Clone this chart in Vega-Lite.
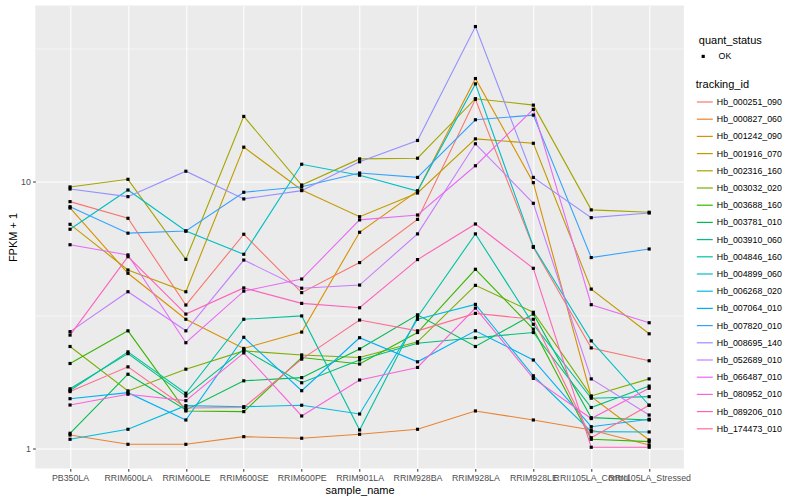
{
"$schema": "https://vega.github.io/schema/vega-lite/v6.json",
"width": 648.6,
"height": 463,
"autosize": {"type": "none"},
"padding": {"left": 35.3, "top": 5.5, "right": 116.1, "bottom": 31.5},
"background": "white",
"config": {
  "view": {"fill": "#EBEBEB", "stroke": null},
  "font": "Liberation Sans",
  "axis": {"domain": false, "labelFont": "Liberation Sans", "labelFontSize": 8.8, "labelColor": "#4D4D4D", "tickColor": "#333333", "tickSize": 2.75, "tickWidth": 1, "labelPadding": 2.2, "titleFont": "Liberation Sans", "titleFontSize": 11, "titleColor": "black", "titleFontWeight": "normal", "gridColor": "white", "gridWidth": 1.07},
  "legend": {"labelFont": "Liberation Sans", "titleFont": "Liberation Sans", "labelFontSize": 8.8, "titleFontSize": 11, "labelColor": "black", "titleColor": "black", "titleFontWeight": "normal"}
},
"data": {"values": [
{"sample_name":"PB350LA","tracking_id":"Hb_000251_090","fpkm":8.44,"quant_status":"OK"},
{"sample_name":"RRIM600LA","tracking_id":"Hb_000251_090","fpkm":7.31,"quant_status":"OK"},
{"sample_name":"RRIM600LE","tracking_id":"Hb_000251_090","fpkm":3.46,"quant_status":"OK"},
{"sample_name":"RRIM600SE","tracking_id":"Hb_000251_090","fpkm":6.37,"quant_status":"OK"},
{"sample_name":"RRIM600PE","tracking_id":"Hb_000251_090","fpkm":3.85,"quant_status":"OK"},
{"sample_name":"RRIM901LA","tracking_id":"Hb_000251_090","fpkm":4.99,"quant_status":"OK"},
{"sample_name":"RRIM928BA","tracking_id":"Hb_000251_090","fpkm":7.24,"quant_status":"OK"},
{"sample_name":"RRIM928LA","tracking_id":"Hb_000251_090","fpkm":20.4,"quant_status":"OK"},
{"sample_name":"RRIM928LE","tracking_id":"Hb_000251_090","fpkm":5.69,"quant_status":"OK"},
{"sample_name":"RRII105LA_Control","tracking_id":"Hb_000251_090","fpkm":2.39,"quant_status":"OK"},
{"sample_name":"RRII105LA_Stressed","tracking_id":"Hb_000251_090","fpkm":2.14,"quant_status":"OK"},
{"sample_name":"PB350LA","tracking_id":"Hb_000827_060","fpkm":1.128,"quant_status":"OK"},
{"sample_name":"RRIM600LA","tracking_id":"Hb_000827_060","fpkm":1.041,"quant_status":"OK"},
{"sample_name":"RRIM600LE","tracking_id":"Hb_000827_060","fpkm":1.041,"quant_status":"OK"},
{"sample_name":"RRIM600SE","tracking_id":"Hb_000827_060","fpkm":1.112,"quant_status":"OK"},
{"sample_name":"RRIM600PE","tracking_id":"Hb_000827_060","fpkm":1.097,"quant_status":"OK"},
{"sample_name":"RRIM901LA","tracking_id":"Hb_000827_060","fpkm":1.135,"quant_status":"OK"},
{"sample_name":"RRIM928BA","tracking_id":"Hb_000827_060","fpkm":1.185,"quant_status":"OK"},
{"sample_name":"RRIM928LA","tracking_id":"Hb_000827_060","fpkm":1.388,"quant_status":"OK"},
{"sample_name":"RRIM928LE","tracking_id":"Hb_000827_060","fpkm":1.284,"quant_status":"OK"},
{"sample_name":"RRII105LA_Control","tracking_id":"Hb_000827_060","fpkm":1.178,"quant_status":"OK"},
{"sample_name":"RRII105LA_Stressed","tracking_id":"Hb_000827_060","fpkm":1.035,"quant_status":"OK"},
{"sample_name":"PB350LA","tracking_id":"Hb_001242_090","fpkm":7.99,"quant_status":"OK"},
{"sample_name":"RRIM600LA","tracking_id":"Hb_001242_090","fpkm":4.55,"quant_status":"OK"},
{"sample_name":"RRIM600LE","tracking_id":"Hb_001242_090","fpkm":3.06,"quant_status":"OK"},
{"sample_name":"RRIM600SE","tracking_id":"Hb_001242_090","fpkm":2.38,"quant_status":"OK"},
{"sample_name":"RRIM600PE","tracking_id":"Hb_001242_090","fpkm":2.74,"quant_status":"OK"},
{"sample_name":"RRIM901LA","tracking_id":"Hb_001242_090","fpkm":6.48,"quant_status":"OK"},
{"sample_name":"RRIM928BA","tracking_id":"Hb_001242_090","fpkm":9.25,"quant_status":"OK"},
{"sample_name":"RRIM928LA","tracking_id":"Hb_001242_090","fpkm":24.4,"quant_status":"OK"},
{"sample_name":"RRIM928LE","tracking_id":"Hb_001242_090","fpkm":9.94,"quant_status":"OK"},
{"sample_name":"RRII105LA_Control","tracking_id":"Hb_001242_090","fpkm":1.57,"quant_status":"OK"},
{"sample_name":"RRII105LA_Stressed","tracking_id":"Hb_001242_090","fpkm":1.081,"quant_status":"OK"},
{"sample_name":"PB350LA","tracking_id":"Hb_001916_070","fpkm":6.94,"quant_status":"OK"},
{"sample_name":"RRIM600LA","tracking_id":"Hb_001916_070","fpkm":4.68,"quant_status":"OK"},
{"sample_name":"RRIM600LE","tracking_id":"Hb_001916_070","fpkm":3.88,"quant_status":"OK"},
{"sample_name":"RRIM600SE","tracking_id":"Hb_001916_070","fpkm":13.5,"quant_status":"OK"},
{"sample_name":"RRIM600PE","tracking_id":"Hb_001916_070","fpkm":9.33,"quant_status":"OK"},
{"sample_name":"RRIM901LA","tracking_id":"Hb_001916_070","fpkm":7.41,"quant_status":"OK"},
{"sample_name":"RRIM928BA","tracking_id":"Hb_001916_070","fpkm":9.09,"quant_status":"OK"},
{"sample_name":"RRIM928LA","tracking_id":"Hb_001916_070","fpkm":14.5,"quant_status":"OK"},
{"sample_name":"RRIM928LE","tracking_id":"Hb_001916_070","fpkm":13.96,"quant_status":"OK"},
{"sample_name":"RRII105LA_Control","tracking_id":"Hb_001916_070","fpkm":3.97,"quant_status":"OK"},
{"sample_name":"RRII105LA_Stressed","tracking_id":"Hb_001916_070","fpkm":2.70,"quant_status":"OK"},
{"sample_name":"PB350LA","tracking_id":"Hb_002316_160","fpkm":9.58,"quant_status":"OK"},
{"sample_name":"RRIM600LA","tracking_id":"Hb_002316_160","fpkm":10.23,"quant_status":"OK"},
{"sample_name":"RRIM600LE","tracking_id":"Hb_002316_160","fpkm":5.13,"quant_status":"OK"},
{"sample_name":"RRIM600SE","tracking_id":"Hb_002316_160","fpkm":17.6,"quant_status":"OK"},
{"sample_name":"RRIM600PE","tracking_id":"Hb_002316_160","fpkm":9.74,"quant_status":"OK"},
{"sample_name":"RRIM901LA","tracking_id":"Hb_002316_160","fpkm":12.2,"quant_status":"OK"},
{"sample_name":"RRIM928BA","tracking_id":"Hb_002316_160","fpkm":12.27,"quant_status":"OK"},
{"sample_name":"RRIM928LA","tracking_id":"Hb_002316_160","fpkm":20.5,"quant_status":"OK"},
{"sample_name":"RRIM928LE","tracking_id":"Hb_002316_160","fpkm":19.4,"quant_status":"OK"},
{"sample_name":"RRII105LA_Control","tracking_id":"Hb_002316_160","fpkm":7.86,"quant_status":"OK"},
{"sample_name":"RRII105LA_Stressed","tracking_id":"Hb_002316_160","fpkm":7.70,"quant_status":"OK"},
{"sample_name":"PB350LA","tracking_id":"Hb_003032_020","fpkm":2.42,"quant_status":"OK"},
{"sample_name":"RRIM600LA","tracking_id":"Hb_003032_020","fpkm":1.65,"quant_status":"OK"},
{"sample_name":"RRIM600LE","tracking_id":"Hb_003032_020","fpkm":1.99,"quant_status":"OK"},
{"sample_name":"RRIM600SE","tracking_id":"Hb_003032_020","fpkm":2.33,"quant_status":"OK"},
{"sample_name":"RRIM600PE","tracking_id":"Hb_003032_020","fpkm":2.25,"quant_status":"OK"},
{"sample_name":"RRIM901LA","tracking_id":"Hb_003032_020","fpkm":2.20,"quant_status":"OK"},
{"sample_name":"RRIM928BA","tracking_id":"Hb_003032_020","fpkm":2.52,"quant_status":"OK"},
{"sample_name":"RRIM928LA","tracking_id":"Hb_003032_020","fpkm":4.10,"quant_status":"OK"},
{"sample_name":"RRIM928LE","tracking_id":"Hb_003032_020","fpkm":3.25,"quant_status":"OK"},
{"sample_name":"RRII105LA_Control","tracking_id":"Hb_003032_020","fpkm":1.58,"quant_status":"OK"},
{"sample_name":"RRII105LA_Stressed","tracking_id":"Hb_003032_020","fpkm":1.83,"quant_status":"OK"},
{"sample_name":"PB350LA","tracking_id":"Hb_003688_160","fpkm":2.09,"quant_status":"OK"},
{"sample_name":"RRIM600LA","tracking_id":"Hb_003688_160","fpkm":2.77,"quant_status":"OK"},
{"sample_name":"RRIM600LE","tracking_id":"Hb_003688_160","fpkm":1.388,"quant_status":"OK"},
{"sample_name":"RRIM600SE","tracking_id":"Hb_003688_160","fpkm":1.38,"quant_status":"OK"},
{"sample_name":"RRIM600PE","tracking_id":"Hb_003688_160","fpkm":2.20,"quant_status":"OK"},
{"sample_name":"RRIM901LA","tracking_id":"Hb_003688_160","fpkm":2.08,"quant_status":"OK"},
{"sample_name":"RRIM928BA","tracking_id":"Hb_003688_160","fpkm":2.73,"quant_status":"OK"},
{"sample_name":"RRIM928LA","tracking_id":"Hb_003688_160","fpkm":4.71,"quant_status":"OK"},
{"sample_name":"RRIM928LE","tracking_id":"Hb_003688_160","fpkm":2.81,"quant_status":"OK"},
{"sample_name":"RRII105LA_Control","tracking_id":"Hb_003688_160","fpkm":1.087,"quant_status":"OK"},
{"sample_name":"RRII105LA_Stressed","tracking_id":"Hb_003688_160","fpkm":1.065,"quant_status":"OK"},
{"sample_name":"PB350LA","tracking_id":"Hb_003781_010","fpkm":1.145,"quant_status":"OK"},
{"sample_name":"RRIM600LA","tracking_id":"Hb_003781_010","fpkm":1.905,"quant_status":"OK"},
{"sample_name":"RRIM600LE","tracking_id":"Hb_003781_010","fpkm":1.40,"quant_status":"OK"},
{"sample_name":"RRIM600SE","tracking_id":"Hb_003781_010","fpkm":1.80,"quant_status":"OK"},
{"sample_name":"RRIM600PE","tracking_id":"Hb_003781_010","fpkm":1.85,"quant_status":"OK"},
{"sample_name":"RRIM901LA","tracking_id":"Hb_003781_010","fpkm":2.37,"quant_status":"OK"},
{"sample_name":"RRIM928BA","tracking_id":"Hb_003781_010","fpkm":3.18,"quant_status":"OK"},
{"sample_name":"RRIM928LA","tracking_id":"Hb_003781_010","fpkm":2.42,"quant_status":"OK"},
{"sample_name":"RRIM928LE","tracking_id":"Hb_003781_010","fpkm":3.20,"quant_status":"OK"},
{"sample_name":"RRII105LA_Control","tracking_id":"Hb_003781_010","fpkm":1.31,"quant_status":"OK"},
{"sample_name":"RRII105LA_Stressed","tracking_id":"Hb_003781_010","fpkm":1.284,"quant_status":"OK"},
{"sample_name":"PB350LA","tracking_id":"Hb_003910_060","fpkm":1.68,"quant_status":"OK"},
{"sample_name":"RRIM600LA","tracking_id":"Hb_003910_060","fpkm":2.275,"quant_status":"OK"},
{"sample_name":"RRIM600LE","tracking_id":"Hb_003910_060","fpkm":1.58,"quant_status":"OK"},
{"sample_name":"RRIM600SE","tracking_id":"Hb_003910_060","fpkm":2.36,"quant_status":"OK"},
{"sample_name":"RRIM600PE","tracking_id":"Hb_003910_060","fpkm":1.77,"quant_status":"OK"},
{"sample_name":"RRIM901LA","tracking_id":"Hb_003910_060","fpkm":2.154,"quant_status":"OK"},
{"sample_name":"RRIM928BA","tracking_id":"Hb_003910_060","fpkm":2.49,"quant_status":"OK"},
{"sample_name":"RRIM928LA","tracking_id":"Hb_003910_060","fpkm":2.61,"quant_status":"OK"},
{"sample_name":"RRIM928LE","tracking_id":"Hb_003910_060","fpkm":2.73,"quant_status":"OK"},
{"sample_name":"RRII105LA_Control","tracking_id":"Hb_003910_060","fpkm":1.43,"quant_status":"OK"},
{"sample_name":"RRII105LA_Stressed","tracking_id":"Hb_003910_060","fpkm":1.72,"quant_status":"OK"},
{"sample_name":"PB350LA","tracking_id":"Hb_004846_160","fpkm":1.656,"quant_status":"OK"},
{"sample_name":"RRIM600LA","tracking_id":"Hb_004846_160","fpkm":2.31,"quant_status":"OK"},
{"sample_name":"RRIM600LE","tracking_id":"Hb_004846_160","fpkm":1.617,"quant_status":"OK"},
{"sample_name":"RRIM600SE","tracking_id":"Hb_004846_160","fpkm":3.06,"quant_status":"OK"},
{"sample_name":"RRIM600PE","tracking_id":"Hb_004846_160","fpkm":3.15,"quant_status":"OK"},
{"sample_name":"RRIM901LA","tracking_id":"Hb_004846_160","fpkm":1.178,"quant_status":"OK"},
{"sample_name":"RRIM928BA","tracking_id":"Hb_004846_160","fpkm":3.12,"quant_status":"OK"},
{"sample_name":"RRIM928LA","tracking_id":"Hb_004846_160","fpkm":6.39,"quant_status":"OK"},
{"sample_name":"RRIM928LE","tracking_id":"Hb_004846_160","fpkm":2.93,"quant_status":"OK"},
{"sample_name":"RRII105LA_Control","tracking_id":"Hb_004846_160","fpkm":1.549,"quant_status":"OK"},
{"sample_name":"RRII105LA_Stressed","tracking_id":"Hb_004846_160","fpkm":1.57,"quant_status":"OK"},
{"sample_name":"PB350LA","tracking_id":"Hb_004899_060","fpkm":6.65,"quant_status":"OK"},
{"sample_name":"RRIM600LA","tracking_id":"Hb_004899_060","fpkm":9.33,"quant_status":"OK"},
{"sample_name":"RRIM600LE","tracking_id":"Hb_004899_060","fpkm":6.55,"quant_status":"OK"},
{"sample_name":"RRIM600SE","tracking_id":"Hb_004899_060","fpkm":5.36,"quant_status":"OK"},
{"sample_name":"RRIM600PE","tracking_id":"Hb_004899_060","fpkm":11.65,"quant_status":"OK"},
{"sample_name":"RRIM901LA","tracking_id":"Hb_004899_060","fpkm":10.6,"quant_status":"OK"},
{"sample_name":"RRIM928BA","tracking_id":"Hb_004899_060","fpkm":9.25,"quant_status":"OK"},
{"sample_name":"RRIM928LA","tracking_id":"Hb_004899_060","fpkm":23.3,"quant_status":"OK"},
{"sample_name":"RRIM928LE","tracking_id":"Hb_004899_060","fpkm":5.73,"quant_status":"OK"},
{"sample_name":"RRII105LA_Control","tracking_id":"Hb_004899_060","fpkm":2.54,"quant_status":"OK"},
{"sample_name":"RRII105LA_Stressed","tracking_id":"Hb_004899_060","fpkm":1.458,"quant_status":"OK"},
{"sample_name":"PB350LA","tracking_id":"Hb_006268_020","fpkm":1.087,"quant_status":"OK"},
{"sample_name":"RRIM600LA","tracking_id":"Hb_006268_020","fpkm":1.185,"quant_status":"OK"},
{"sample_name":"RRIM600LE","tracking_id":"Hb_006268_020","fpkm":1.453,"quant_status":"OK"},
{"sample_name":"RRIM600SE","tracking_id":"Hb_006268_020","fpkm":1.44,"quant_status":"OK"},
{"sample_name":"RRIM600PE","tracking_id":"Hb_006268_020","fpkm":1.458,"quant_status":"OK"},
{"sample_name":"RRIM901LA","tracking_id":"Hb_006268_020","fpkm":1.352,"quant_status":"OK"},
{"sample_name":"RRIM928BA","tracking_id":"Hb_006268_020","fpkm":3.06,"quant_status":"OK"},
{"sample_name":"RRIM928LA","tracking_id":"Hb_006268_020","fpkm":3.48,"quant_status":"OK"},
{"sample_name":"RRIM928LE","tracking_id":"Hb_006268_020","fpkm":1.88,"quant_status":"OK"},
{"sample_name":"RRII105LA_Control","tracking_id":"Hb_006268_020","fpkm":1.161,"quant_status":"OK"},
{"sample_name":"RRII105LA_Stressed","tracking_id":"Hb_006268_020","fpkm":1.158,"quant_status":"OK"},
{"sample_name":"PB350LA","tracking_id":"Hb_007064_010","fpkm":1.543,"quant_status":"OK"},
{"sample_name":"RRIM600LA","tracking_id":"Hb_007064_010","fpkm":1.625,"quant_status":"OK"},
{"sample_name":"RRIM600LE","tracking_id":"Hb_007064_010","fpkm":1.284,"quant_status":"OK"},
{"sample_name":"RRIM600SE","tracking_id":"Hb_007064_010","fpkm":2.62,"quant_status":"OK"},
{"sample_name":"RRIM600PE","tracking_id":"Hb_007064_010","fpkm":1.653,"quant_status":"OK"},
{"sample_name":"RRIM901LA","tracking_id":"Hb_007064_010","fpkm":2.61,"quant_status":"OK"},
{"sample_name":"RRIM928BA","tracking_id":"Hb_007064_010","fpkm":2.12,"quant_status":"OK"},
{"sample_name":"RRIM928LA","tracking_id":"Hb_007064_010","fpkm":2.77,"quant_status":"OK"},
{"sample_name":"RRIM928LE","tracking_id":"Hb_007064_010","fpkm":2.154,"quant_status":"OK"},
{"sample_name":"RRII105LA_Control","tracking_id":"Hb_007064_010","fpkm":1.212,"quant_status":"OK"},
{"sample_name":"RRII105LA_Stressed","tracking_id":"Hb_007064_010","fpkm":1.292,"quant_status":"OK"},
{"sample_name":"PB350LA","tracking_id":"Hb_007820_010","fpkm":8.08,"quant_status":"OK"},
{"sample_name":"RRIM600LA","tracking_id":"Hb_007820_010","fpkm":6.43,"quant_status":"OK"},
{"sample_name":"RRIM600LE","tracking_id":"Hb_007820_010","fpkm":6.55,"quant_status":"OK"},
{"sample_name":"RRIM600SE","tracking_id":"Hb_007820_010","fpkm":9.15,"quant_status":"OK"},
{"sample_name":"RRIM600PE","tracking_id":"Hb_007820_010","fpkm":9.60,"quant_status":"OK"},
{"sample_name":"RRIM901LA","tracking_id":"Hb_007820_010","fpkm":10.8,"quant_status":"OK"},
{"sample_name":"RRIM928BA","tracking_id":"Hb_007820_010","fpkm":10.4,"quant_status":"OK"},
{"sample_name":"RRIM928LA","tracking_id":"Hb_007820_010","fpkm":17.1,"quant_status":"OK"},
{"sample_name":"RRIM928LE","tracking_id":"Hb_007820_010","fpkm":17.8,"quant_status":"OK"},
{"sample_name":"RRII105LA_Control","tracking_id":"Hb_007820_010","fpkm":5.21,"quant_status":"OK"},
{"sample_name":"RRII105LA_Stressed","tracking_id":"Hb_007820_010","fpkm":5.61,"quant_status":"OK"},
{"sample_name":"PB350LA","tracking_id":"Hb_008695_140","fpkm":9.41,"quant_status":"OK"},
{"sample_name":"RRIM600LA","tracking_id":"Hb_008695_140","fpkm":8.81,"quant_status":"OK"},
{"sample_name":"RRIM600LE","tracking_id":"Hb_008695_140","fpkm":10.97,"quant_status":"OK"},
{"sample_name":"RRIM600SE","tracking_id":"Hb_008695_140","fpkm":8.64,"quant_status":"OK"},
{"sample_name":"RRIM600PE","tracking_id":"Hb_008695_140","fpkm":9.28,"quant_status":"OK"},
{"sample_name":"RRIM901LA","tracking_id":"Hb_008695_140","fpkm":11.9,"quant_status":"OK"},
{"sample_name":"RRIM928BA","tracking_id":"Hb_008695_140","fpkm":14.3,"quant_status":"OK"},
{"sample_name":"RRIM928LA","tracking_id":"Hb_008695_140","fpkm":38.2,"quant_status":"OK"},
{"sample_name":"RRIM928LE","tracking_id":"Hb_008695_140","fpkm":10.4,"quant_status":"OK"},
{"sample_name":"RRII105LA_Control","tracking_id":"Hb_008695_140","fpkm":7.35,"quant_status":"OK"},
{"sample_name":"RRII105LA_Stressed","tracking_id":"Hb_008695_140","fpkm":7.65,"quant_status":"OK"},
{"sample_name":"PB350LA","tracking_id":"Hb_052689_010","fpkm":2.75,"quant_status":"OK"},
{"sample_name":"RRIM600LA","tracking_id":"Hb_052689_010","fpkm":3.88,"quant_status":"OK"},
{"sample_name":"RRIM600LE","tracking_id":"Hb_052689_010","fpkm":2.77,"quant_status":"OK"},
{"sample_name":"RRIM600SE","tracking_id":"Hb_052689_010","fpkm":5.10,"quant_status":"OK"},
{"sample_name":"RRIM600PE","tracking_id":"Hb_052689_010","fpkm":4.00,"quant_status":"OK"},
{"sample_name":"RRIM901LA","tracking_id":"Hb_052689_010","fpkm":4.11,"quant_status":"OK"},
{"sample_name":"RRIM928BA","tracking_id":"Hb_052689_010","fpkm":6.39,"quant_status":"OK"},
{"sample_name":"RRIM928LA","tracking_id":"Hb_052689_010","fpkm":13.9,"quant_status":"OK"},
{"sample_name":"RRIM928LE","tracking_id":"Hb_052689_010","fpkm":8.32,"quant_status":"OK"},
{"sample_name":"RRII105LA_Control","tracking_id":"Hb_052689_010","fpkm":1.83,"quant_status":"OK"},
{"sample_name":"RRII105LA_Stressed","tracking_id":"Hb_052689_010","fpkm":1.34,"quant_status":"OK"},
{"sample_name":"PB350LA","tracking_id":"Hb_066487_010","fpkm":5.82,"quant_status":"OK"},
{"sample_name":"RRIM600LA","tracking_id":"Hb_066487_010","fpkm":5.33,"quant_status":"OK"},
{"sample_name":"RRIM600LE","tracking_id":"Hb_066487_010","fpkm":2.50,"quant_status":"OK"},
{"sample_name":"RRIM600SE","tracking_id":"Hb_066487_010","fpkm":3.90,"quant_status":"OK"},
{"sample_name":"RRIM600PE","tracking_id":"Hb_066487_010","fpkm":4.33,"quant_status":"OK"},
{"sample_name":"RRIM901LA","tracking_id":"Hb_066487_010","fpkm":7.21,"quant_status":"OK"},
{"sample_name":"RRIM928BA","tracking_id":"Hb_066487_010","fpkm":7.52,"quant_status":"OK"},
{"sample_name":"RRIM928LA","tracking_id":"Hb_066487_010","fpkm":11.5,"quant_status":"OK"},
{"sample_name":"RRIM928LE","tracking_id":"Hb_066487_010","fpkm":18.7,"quant_status":"OK"},
{"sample_name":"RRII105LA_Control","tracking_id":"Hb_066487_010","fpkm":3.47,"quant_status":"OK"},
{"sample_name":"RRII105LA_Stressed","tracking_id":"Hb_066487_010","fpkm":2.97,"quant_status":"OK"},
{"sample_name":"PB350LA","tracking_id":"Hb_080952_010","fpkm":1.461,"quant_status":"OK"},
{"sample_name":"RRIM600LA","tracking_id":"Hb_080952_010","fpkm":1.603,"quant_status":"OK"},
{"sample_name":"RRIM600LE","tracking_id":"Hb_080952_010","fpkm":1.517,"quant_status":"OK"},
{"sample_name":"RRIM600SE","tracking_id":"Hb_080952_010","fpkm":2.29,"quant_status":"OK"},
{"sample_name":"RRIM600PE","tracking_id":"Hb_080952_010","fpkm":1.329,"quant_status":"OK"},
{"sample_name":"RRIM901LA","tracking_id":"Hb_080952_010","fpkm":1.813,"quant_status":"OK"},
{"sample_name":"RRIM928BA","tracking_id":"Hb_080952_010","fpkm":2.02,"quant_status":"OK"},
{"sample_name":"RRIM928LA","tracking_id":"Hb_080952_010","fpkm":3.37,"quant_status":"OK"},
{"sample_name":"RRIM928LE","tracking_id":"Hb_080952_010","fpkm":1.837,"quant_status":"OK"},
{"sample_name":"RRII105LA_Control","tracking_id":"Hb_080952_010","fpkm":1.30,"quant_status":"OK"},
{"sample_name":"RRII105LA_Stressed","tracking_id":"Hb_080952_010","fpkm":1.688,"quant_status":"OK"},
{"sample_name":"PB350LA","tracking_id":"Hb_089206_010","fpkm":2.67,"quant_status":"OK"},
{"sample_name":"RRIM600LA","tracking_id":"Hb_089206_010","fpkm":5.25,"quant_status":"OK"},
{"sample_name":"RRIM600LE","tracking_id":"Hb_089206_010","fpkm":3.20,"quant_status":"OK"},
{"sample_name":"RRIM600SE","tracking_id":"Hb_089206_010","fpkm":4.01,"quant_status":"OK"},
{"sample_name":"RRIM600PE","tracking_id":"Hb_089206_010","fpkm":3.51,"quant_status":"OK"},
{"sample_name":"RRIM901LA","tracking_id":"Hb_089206_010","fpkm":3.38,"quant_status":"OK"},
{"sample_name":"RRIM928BA","tracking_id":"Hb_089206_010","fpkm":5.12,"quant_status":"OK"},
{"sample_name":"RRIM928LA","tracking_id":"Hb_089206_010","fpkm":6.96,"quant_status":"OK"},
{"sample_name":"RRIM928LE","tracking_id":"Hb_089206_010","fpkm":4.75,"quant_status":"OK"},
{"sample_name":"RRII105LA_Control","tracking_id":"Hb_089206_010","fpkm":1.015,"quant_status":"OK"},
{"sample_name":"RRII105LA_Stressed","tracking_id":"Hb_089206_010","fpkm":1.015,"quant_status":"OK"},
{"sample_name":"PB350LA","tracking_id":"Hb_174473_010","fpkm":1.64,"quant_status":"OK"},
{"sample_name":"RRIM600LA","tracking_id":"Hb_174473_010","fpkm":2.03,"quant_status":"OK"},
{"sample_name":"RRIM600LE","tracking_id":"Hb_174473_010","fpkm":1.424,"quant_status":"OK"},
{"sample_name":"RRIM600SE","tracking_id":"Hb_174473_010","fpkm":1.43,"quant_status":"OK"},
{"sample_name":"RRIM600PE","tracking_id":"Hb_174473_010","fpkm":2.17,"quant_status":"OK"},
{"sample_name":"RRIM901LA","tracking_id":"Hb_174473_010","fpkm":3.04,"quant_status":"OK"},
{"sample_name":"RRIM928BA","tracking_id":"Hb_174473_010","fpkm":2.77,"quant_status":"OK"},
{"sample_name":"RRIM928LA","tracking_id":"Hb_174473_010","fpkm":3.22,"quant_status":"OK"},
{"sample_name":"RRIM928LE","tracking_id":"Hb_174473_010","fpkm":3.06,"quant_status":"OK"},
{"sample_name":"RRII105LA_Control","tracking_id":"Hb_174473_010","fpkm":1.102,"quant_status":"OK"},
{"sample_name":"RRII105LA_Stressed","tracking_id":"Hb_174473_010","fpkm":1.458,"quant_status":"OK"}
]},
"encoding": {
  "x": {"field": "sample_name", "type": "nominal",
        "sort": ["PB350LA","RRIM600LA","RRIM600LE","RRIM600SE","RRIM600PE","RRIM901LA","RRIM928BA","RRIM928LA","RRIM928LE","RRII105LA_Control","RRII105LA_Stressed"],
        "scale": {"type": "point", "padding": 0.6},
        "axis": {"title": "sample_name", "labelAngle": 0, "grid": true, "titlePadding": 2, "labelOverlap": false}},
  "y": {"field": "fpkm", "type": "quantitative",
        "scale": {"type": "log", "domain": [0.845, 45.8], "nice": false, "zero": false},
        "axis": {"title": "FPKM + 1", "values": [1, 3.1623, 10, 31.623], "titlePadding": 2,
                 "labelExpr": "datum.value == 1 ? '1' : (datum.value == 10 ? '10' : '')",
                 "gridWidth": {"condition": {"test": "datum.value == 1 || datum.value == 10", "value": 1.07}, "value": 0.53},
                 "tickColor": {"condition": {"test": "datum.value == 1 || datum.value == 10", "value": "#333333"}, "value": "transparent"}}}
},
"layer": [
  {"mark": {"type": "line", "strokeWidth": 1.1},
   "encoding": {
     "color": {"field": "tracking_id", "type": "nominal", "title": "tracking_id",
       "scale": {"domain": ["Hb_000251_090","Hb_000827_060","Hb_001242_090","Hb_001916_070","Hb_002316_160","Hb_003032_020","Hb_003688_160","Hb_003781_010","Hb_003910_060","Hb_004846_160","Hb_004899_060","Hb_006268_020","Hb_007064_010","Hb_007820_010","Hb_008695_140","Hb_052689_010","Hb_066487_010","Hb_080952_010","Hb_089206_010","Hb_174473_010"],
                 "range": ["#F8766D","#EA8331","#D89000","#C09B00","#A3A500","#7CAE00","#39B600","#00BB4E","#00BF7D","#00C1A3","#00BFC4","#00BAE0","#00B0F6","#35A2FF","#9590FF","#C77CFF","#E76BF3","#FA62DB","#FF62BC","#FF6C91"]},
       "legend": {"orient": "none", "legendX": 660.5, "legendY": 73, "symbolType": "stroke", "symbolSize": 256, "symbolStrokeWidth": 1.2, "rowPadding": 3.2, "labelOffset": 3, "titlePadding": 3.5}},
     "order": {"value": null}}},
  {"mark": {"type": "point", "filled": true, "color": "black", "size": 10, "opacity": 1},
   "encoding": {
     "shape": {"field": "quant_status", "type": "nominal", "title": "quant_status",
       "scale": {"range": ["square"]},
       "legend": {"orient": "none", "legendX": 663.5, "legendY": 29.5, "symbolSize": 10, "symbolFillColor": "black", "symbolStrokeColor": "black", "labelOffset": 11, "titlePadding": 6}}}}
]
}
